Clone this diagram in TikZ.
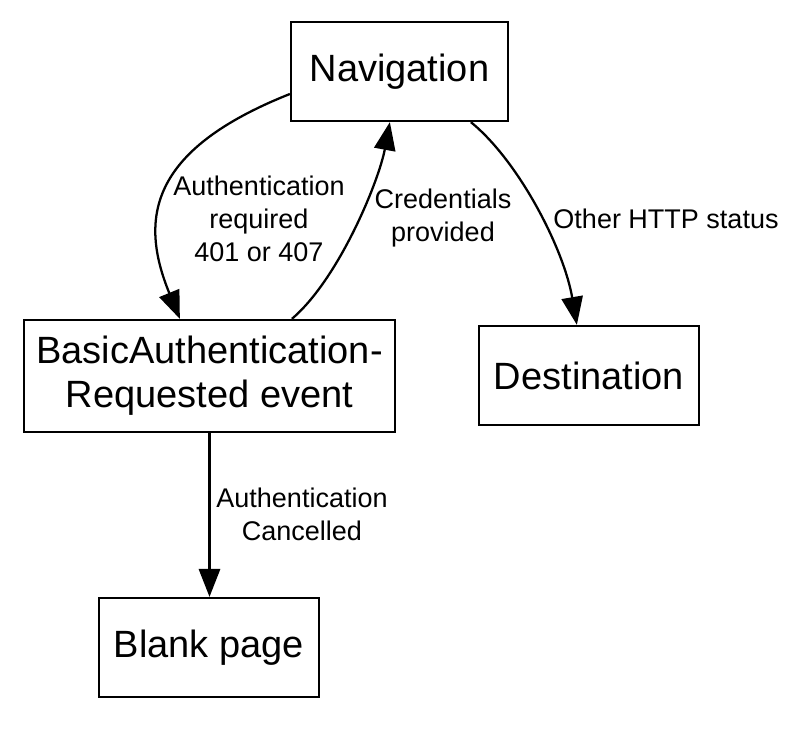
\documentclass[tikz,border=0pt]{standalone}
\usepackage{fontspec}
\setmainfont{Liberation Sans}
\usetikzlibrary{arrows.meta,calc}
\begin{document}
\begin{tikzpicture}[x=0.75pt,y=-0.75pt,
  box/.style={draw,line width=1.7pt,rectangle,inner sep=0pt,align=center,
    font=\fontsize{28.5pt}{33pt}\selectfont},
  lbl/.style={align=center,inner sep=0pt,font=\fontsize{20.25pt}{24.75pt}\selectfont},
  conn/.style={line width=1.7pt,-{Triangle[length=21pt,width=16pt]}}]
\useasboundingbox (0,0) rectangle (800,729);
\node[box,minimum width=162.75pt,minimum height=74.25pt] (nav) at (399.5,71.5) {Navigation};
\node[box,minimum width=278.25pt,minimum height=84pt] (auth) at (209.5,376) {BasicAuthentication-\\Requested event};
\node[box,minimum width=165pt,minimum height=74.25pt] (dest) at (589,375.5) {Destination};
\node[box,minimum width=165pt,minimum height=74.25pt] (blank) at (209,647.5) {Blank page};
\draw[conn] ($(nav.west)+(0,22.5)$) .. controls +(-141,56) and +(-41,-100) .. ($(auth.north west)+(157,0)$);
\draw[conn] ($(auth.north west)+(269,0)$) .. controls +(47,-40) and +(-11,59) .. ($(nav.south west)+(100,0)$);
\draw[conn] ($(nav.south west)+(181,0)$) .. controls +(48,39) and +(-13,-76) .. ($(dest.north west)+(99,0)$);
\draw[conn] (auth.south) -- (auth.south |- blank.north);
\node[lbl] (l1) at (259,219) {Authentication\\required\\401 or 407};
\node[lbl] (l2) at (443,218) {Credentials\\provided};
\node[lbl] (l3) at (666,219) {Other HTTP status};
\node[lbl] (l4) at (302,514) {Authentication\\Cancelled};
\end{tikzpicture}
\end{document}
